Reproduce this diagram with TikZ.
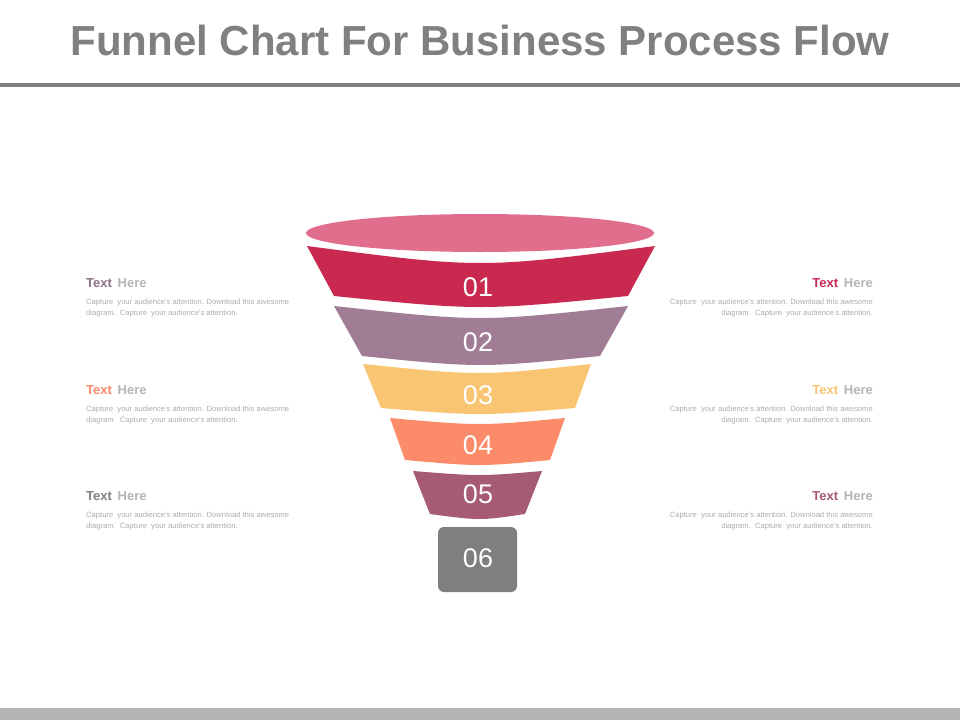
\documentclass[tikz,border=0pt]{standalone}
\usepackage{fontspec}
\setmainfont{Liberation Sans}
\definecolor{ttl}{HTML}{808080}
\definecolor{cE}{HTML}{E06E8C}
\definecolor{c1}{HTML}{C9294F}
\definecolor{c2}{HTML}{A07D95}
\definecolor{c3}{HTML}{F9C573}
\definecolor{c4}{HTML}{FC8B6A}
\definecolor{c5}{HTML}{A65B73}
\definecolor{c6}{HTML}{7F7F7F}
\definecolor{body}{HTML}{ADADAD}
\definecolor{here}{HTML}{B5B5B5}
\tikzset{num/.style={text=white,font=\fontsize{27}{27}\selectfont},
 bodytxt/.style={text=body,font=\fontsize{7.6}{11}\selectfont,inner sep=0pt},
 hd/.style={font=\fontsize{13}{13}\selectfont\bfseries,inner sep=0pt}}
\newcommand{\band}[9]{% color, yt, xlt, xrt, dyt, yb, xlb, xrb, dyb
 \fill[#1] (#3,#2) .. controls (480,#2+#5/0.75) .. (#4,#2) -- (#8,#6) .. controls (480,#6+#9/0.75) .. (#7,#6) -- cycle;}
\begin{document}
\begin{tikzpicture}[x=1pt,y=-1pt]
\useasboundingbox (0,0) rectangle (960,720);
\fill[white] (0,0) rectangle (960,720);
\node[text=ttl,font=\fontsize{42}{42}\selectfont\bfseries] (title) at (480,40) {Funnel Chart For Business Process Flow};
\fill[ttl] (0,83) rectangle (960,87);
\fill[here] (0,708) rectangle (960,720);
\fill[cE] (480,233) ellipse (174 and 19);
\band{c1}{246}{307}{655}{17}{296}{334}{628}{11}
\band{c2}{306}{334}{628}{12}{356}{362}{600}{9}
\band{c3}{364}{363}{591}{9}{408}{381}{575}{6}
\band{c4}{418}{390}{565}{6}{460}{405}{550}{5}
\band{c5}{471}{413}{542}{4}{514}{430}{525}{5}
\fill[c6,rounded corners=6pt] (438,527) rectangle (517,592);
\node[num] (n1) at (478,287) {01};
\node[num] (n2) at (478,342) {02};
\node[num] (n3) at (478,395) {03};
\node[num] (n4) at (478,445) {04};
\node[num] (n5) at (478,494) {05};
\node[num] (n6) at (478,558) {06};
\foreach \y/\col/\s in {283/c2!90!black/l1,390/c4/l2,496/c6/l3}{
 \node[hd,anchor=west] (h\s) at (86,\y) {\textcolor{\col}{Text}\, \textcolor{here}{Here}};
 \node[bodytxt,anchor=north west,align=left] (b\s) at (86,\y+16) {Capture\ \ your audience's attention. Download this awesome\\ diagram.\ \ Capture\ \ your audience's attention.};
}
\foreach \y/\col/\s in {283/c1/r1,390/c3/r2,496/c5/r3}{
 \node[hd,anchor=east] (h\s) at (873,\y) {\textcolor{\col}{Text}\, \textcolor{here}{Here}};
 \node[bodytxt,anchor=north east,align=right] (b\s) at (873,\y+16) {Capture\ \ your audience's attention. Download this awesome\\ diagram.\ \ Capture\ \ your audience's attention.};
}
\end{tikzpicture}
\end{document}
